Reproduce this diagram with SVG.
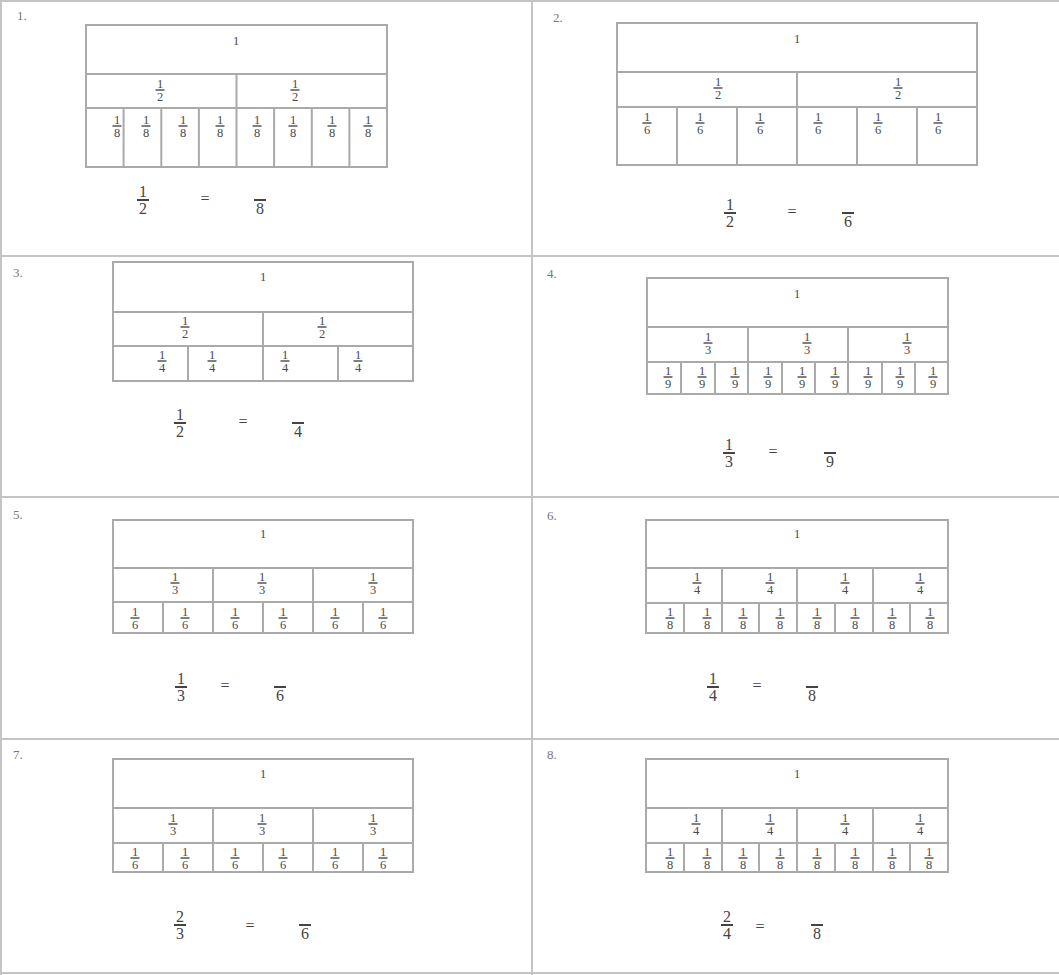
<svg xmlns="http://www.w3.org/2000/svg" width="1059" height="975" viewBox="0 0 1059 975">
<style>
.grid{stroke:#c4c4c4;stroke-width:2;fill:none}
.bar{stroke:#aaaaaa;stroke-width:2;fill:none}
.fl{stroke:#555;stroke-width:1.4;fill:none}
.fb{stroke:#444;stroke-width:1.8;fill:none}
text{font-family:"Liberation Serif","Times New Roman",serif;fill:#4a4a4a;text-anchor:middle}
.s{font-size:12.5px}
.b{font-size:16px;fill:#444}
.n{font-size:13px;text-anchor:start;fill:#777}
</style>
<rect width="1059" height="975" fill="#ffffff"/>
<g id="grid" class="grid">
<path d="M0 1H1059M1 0V975M532 0V975M0 256H1059M0 497H1059M0 739H1059M0 973H1059"/>
</g>

<g id="panel-1">
<text class="n" x="17" y="20">1.</text>
<rect class="bar" x="86" y="25" width="301" height="142"/>
<path class="bar" d="M86 74H387M86 108H387M236.5 74V167M123.6 108V167M161.3 108V167M198.9 108V167M274.1 108V167M311.8 108V167M349.4 108V167"/>
<text class="s" x="236" y="45">1</text>
<path class="fl" d="M155.5 90h9M290.5 90h9M112.5 126h9M141.5 126h9M178.5 126h9M215.5 126h9M252.5 126h9M288.5 126h9M327.5 126h9M363.5 126h9"/>
<text class="s" x="160" y="87.5">1</text><text class="s" x="160" y="100.5">2</text>
<text class="s" x="295" y="87.5">1</text><text class="s" x="295" y="100.5">2</text>
<text class="s" x="117" y="123.5">1</text><text class="s" x="117" y="136.5">8</text>
<text class="s" x="146" y="123.5">1</text><text class="s" x="146" y="136.5">8</text>
<text class="s" x="183" y="123.5">1</text><text class="s" x="183" y="136.5">8</text>
<text class="s" x="220" y="123.5">1</text><text class="s" x="220" y="136.5">8</text>
<text class="s" x="257" y="123.5">1</text><text class="s" x="257" y="136.5">8</text>
<text class="s" x="293" y="123.5">1</text><text class="s" x="293" y="136.5">8</text>
<text class="s" x="332" y="123.5">1</text><text class="s" x="332" y="136.5">8</text>
<text class="s" x="368" y="123.5">1</text><text class="s" x="368" y="136.5">8</text>
<path class="fb" d="M137 200h12M254 200h12"/>
<text class="b" x="143" y="197">1</text><text class="b" x="143" y="214">2</text>
<text class="b" x="205" y="204">=</text>
<text class="b" x="260" y="214">8</text>
</g>

<g id="panel-2">
<text class="n" x="553" y="22">2.</text>
<rect class="bar" x="617" y="23" width="360" height="142"/>
<path class="bar" d="M617 72H977M617 107H977M797 72V165M677 107V165M737 107V165M857 107V165M917 107V165"/>
<text class="s" x="797" y="43">1</text>
<path class="fl" d="M713.5 88h9M893.5 88h9M642.5 123h9M695.5 123h9M755.5 123h9M813.5 123h9M873.5 123h9M933.5 123h9"/>
<text class="s" x="718" y="85.5">1</text><text class="s" x="718" y="98.5">2</text>
<text class="s" x="898" y="85.5">1</text><text class="s" x="898" y="98.5">2</text>
<text class="s" x="647" y="120.5">1</text><text class="s" x="647" y="133.5">6</text>
<text class="s" x="700" y="120.5">1</text><text class="s" x="700" y="133.5">6</text>
<text class="s" x="760" y="120.5">1</text><text class="s" x="760" y="133.5">6</text>
<text class="s" x="818" y="120.5">1</text><text class="s" x="818" y="133.5">6</text>
<text class="s" x="878" y="120.5">1</text><text class="s" x="878" y="133.5">6</text>
<text class="s" x="938" y="120.5">1</text><text class="s" x="938" y="133.5">6</text>
<path class="fb" d="M724 213h12M842 213h12"/>
<text class="b" x="730" y="210">1</text><text class="b" x="730" y="227">2</text>
<text class="b" x="792" y="217">=</text>
<text class="b" x="848" y="227">6</text>
</g>

<g id="panel-3">
<text class="n" x="13" y="277">3.</text>
<rect class="bar" x="113" y="262" width="300" height="119"/>
<path class="bar" d="M113 312H413M113 346H413M263 312V381M188 346V381M338 346V381"/>
<text class="s" x="263" y="281">1</text>
<path class="fl" d="M180.5 327h9M317.5 327h9M157.5 361h9M207.5 361h9M280.5 361h9M353.5 361h9"/>
<text class="s" x="185" y="324.5">1</text><text class="s" x="185" y="337.5">2</text>
<text class="s" x="322" y="324.5">1</text><text class="s" x="322" y="337.5">2</text>
<text class="s" x="162" y="358.5">1</text><text class="s" x="162" y="371.5">4</text>
<text class="s" x="212" y="358.5">1</text><text class="s" x="212" y="371.5">4</text>
<text class="s" x="285" y="358.5">1</text><text class="s" x="285" y="371.5">4</text>
<text class="s" x="358" y="358.5">1</text><text class="s" x="358" y="371.5">4</text>
<path class="fb" d="M174 423h12M292 423h12"/>
<text class="b" x="180" y="420">1</text><text class="b" x="180" y="437">2</text>
<text class="b" x="243" y="427">=</text>
<text class="b" x="298" y="437">4</text>
</g>

<g id="panel-4">
<text class="n" x="547" y="278">4.</text>
<rect class="bar" x="647" y="278" width="301" height="116"/>
<path class="bar" d="M647 327H948M647 362H948M748 327V394M848 327V394M681 362V394M715 362V394M782 362V394M815 362V394M882 362V394M915 362V394"/>
<text class="s" x="797" y="298">1</text>
<path class="fl" d="M703.5 343h9M802.5 343h9M902.5 343h9M663.5 377h9M697.5 377h9M730.5 377h9M763.5 377h9M797.5 377h9M830.5 377h9M863.5 377h9M895.5 377h9M928.5 377h9"/>
<text class="s" x="708" y="340.5">1</text><text class="s" x="708" y="353.5">3</text>
<text class="s" x="807" y="340.5">1</text><text class="s" x="807" y="353.5">3</text>
<text class="s" x="907" y="340.5">1</text><text class="s" x="907" y="353.5">3</text>
<text class="s" x="668" y="374.5">1</text><text class="s" x="668" y="387.5">9</text>
<text class="s" x="702" y="374.5">1</text><text class="s" x="702" y="387.5">9</text>
<text class="s" x="735" y="374.5">1</text><text class="s" x="735" y="387.5">9</text>
<text class="s" x="768" y="374.5">1</text><text class="s" x="768" y="387.5">9</text>
<text class="s" x="802" y="374.5">1</text><text class="s" x="802" y="387.5">9</text>
<text class="s" x="835" y="374.5">1</text><text class="s" x="835" y="387.5">9</text>
<text class="s" x="868" y="374.5">1</text><text class="s" x="868" y="387.5">9</text>
<text class="s" x="900" y="374.5">1</text><text class="s" x="900" y="387.5">9</text>
<text class="s" x="933" y="374.5">1</text><text class="s" x="933" y="387.5">9</text>
<path class="fb" d="M723 453h12M824 453h12"/>
<text class="b" x="729" y="450">1</text><text class="b" x="729" y="467">3</text>
<text class="b" x="773" y="457">=</text>
<text class="b" x="830" y="467">9</text>
</g>

<g id="panel-5">
<text class="n" x="13" y="519">5.</text>
<rect class="bar" x="113" y="520" width="300" height="113"/>
<path class="bar" d="M113 568H413M113 602H413M213 568V633M313 568V633M163 602V633M263 602V633M363 602V633"/>
<text class="s" x="263" y="538">1</text>
<path class="fl" d="M170.5 583h9M257.5 583h9M368.5 583h9M130.5 618h9M180.5 618h9M230.5 618h9M278.5 618h9M330.5 618h9M378.5 618h9"/>
<text class="s" x="175" y="580.5">1</text><text class="s" x="175" y="593.5">3</text>
<text class="s" x="262" y="580.5">1</text><text class="s" x="262" y="593.5">3</text>
<text class="s" x="373" y="580.5">1</text><text class="s" x="373" y="593.5">3</text>
<text class="s" x="135" y="615.5">1</text><text class="s" x="135" y="628.5">6</text>
<text class="s" x="185" y="615.5">1</text><text class="s" x="185" y="628.5">6</text>
<text class="s" x="235" y="615.5">1</text><text class="s" x="235" y="628.5">6</text>
<text class="s" x="283" y="615.5">1</text><text class="s" x="283" y="628.5">6</text>
<text class="s" x="335" y="615.5">1</text><text class="s" x="335" y="628.5">6</text>
<text class="s" x="383" y="615.5">1</text><text class="s" x="383" y="628.5">6</text>
<path class="fb" d="M175 687h12M274 687h12"/>
<text class="b" x="181" y="684">1</text><text class="b" x="181" y="701">3</text>
<text class="b" x="225" y="691">=</text>
<text class="b" x="280" y="701">6</text>
</g>

<g id="panel-6">
<text class="n" x="547" y="520">6.</text>
<rect class="bar" x="646" y="520" width="302" height="113"/>
<path class="bar" d="M646 568H948M646 603H948M722 568V633M797 568V633M873 568V633M684 603V633M759 603V633M835 603V633M910 603V633"/>
<text class="s" x="797" y="538">1</text>
<path class="fl" d="M692.5 583h9M765.5 583h9M840.5 583h9M915.5 583h9M665.5 618h9M702.5 618h9M738.5 618h9M775.5 618h9M812.5 618h9M850.5 618h9M887.5 618h9M925.5 618h9"/>
<text class="s" x="697" y="580.5">1</text><text class="s" x="697" y="593.5">4</text>
<text class="s" x="770" y="580.5">1</text><text class="s" x="770" y="593.5">4</text>
<text class="s" x="845" y="580.5">1</text><text class="s" x="845" y="593.5">4</text>
<text class="s" x="920" y="580.5">1</text><text class="s" x="920" y="593.5">4</text>
<text class="s" x="670" y="615.5">1</text><text class="s" x="670" y="628.5">8</text>
<text class="s" x="707" y="615.5">1</text><text class="s" x="707" y="628.5">8</text>
<text class="s" x="743" y="615.5">1</text><text class="s" x="743" y="628.5">8</text>
<text class="s" x="780" y="615.5">1</text><text class="s" x="780" y="628.5">8</text>
<text class="s" x="817" y="615.5">1</text><text class="s" x="817" y="628.5">8</text>
<text class="s" x="855" y="615.5">1</text><text class="s" x="855" y="628.5">8</text>
<text class="s" x="892" y="615.5">1</text><text class="s" x="892" y="628.5">8</text>
<text class="s" x="930" y="615.5">1</text><text class="s" x="930" y="628.5">8</text>
<path class="fb" d="M707 687h12M806 687h12"/>
<text class="b" x="713" y="684">1</text><text class="b" x="713" y="701">4</text>
<text class="b" x="757" y="691">=</text>
<text class="b" x="812" y="701">8</text>
</g>

<g id="panel-7">
<text class="n" x="13" y="759">7.</text>
<rect class="bar" x="113" y="759" width="300" height="113"/>
<path class="bar" d="M113 808H413M113 843H413M213 808V872M313 808V872M163 843V872M263 843V872M363 843V872"/>
<text class="s" x="263" y="778">1</text>
<path class="fl" d="M168.5 824h9M257.5 824h9M368.5 824h9M130.5 858h9M180.5 858h9M230.5 858h9M278.5 858h9M330.5 858h9M378.5 858h9"/>
<text class="s" x="173" y="821.5">1</text><text class="s" x="173" y="834.5">3</text>
<text class="s" x="262" y="821.5">1</text><text class="s" x="262" y="834.5">3</text>
<text class="s" x="373" y="821.5">1</text><text class="s" x="373" y="834.5">3</text>
<text class="s" x="135" y="855.5">1</text><text class="s" x="135" y="868.5">6</text>
<text class="s" x="185" y="855.5">1</text><text class="s" x="185" y="868.5">6</text>
<text class="s" x="235" y="855.5">1</text><text class="s" x="235" y="868.5">6</text>
<text class="s" x="283" y="855.5">1</text><text class="s" x="283" y="868.5">6</text>
<text class="s" x="335" y="855.5">1</text><text class="s" x="335" y="868.5">6</text>
<text class="s" x="383" y="855.5">1</text><text class="s" x="383" y="868.5">6</text>
<path class="fb" d="M174 925h12M299 925h12"/>
<text class="b" x="180" y="922">2</text><text class="b" x="180" y="939">3</text>
<text class="b" x="250" y="931">=</text>
<text class="b" x="305" y="939">6</text>
</g>

<g id="panel-8">
<text class="n" x="547" y="759">8.</text>
<rect class="bar" x="646" y="759" width="302" height="113"/>
<path class="bar" d="M646 808H948M646 843H948M722 808V872M797 808V872M873 808V872M684 843V872M759 843V872M835 843V872M910 843V872"/>
<text class="s" x="797" y="778">1</text>
<path class="fl" d="M691.5 824h9M765.5 824h9M840.5 824h9M915.5 824h9M665.5 858h9M702.5 858h9M738.5 858h9M775.5 858h9M812.5 858h9M850.5 858h9M887.5 858h9M924.5 858h9"/>
<text class="s" x="696" y="821.5">1</text><text class="s" x="696" y="834.5">4</text>
<text class="s" x="770" y="821.5">1</text><text class="s" x="770" y="834.5">4</text>
<text class="s" x="845" y="821.5">1</text><text class="s" x="845" y="834.5">4</text>
<text class="s" x="920" y="821.5">1</text><text class="s" x="920" y="834.5">4</text>
<text class="s" x="670" y="855.5">1</text><text class="s" x="670" y="868.5">8</text>
<text class="s" x="707" y="855.5">1</text><text class="s" x="707" y="868.5">8</text>
<text class="s" x="743" y="855.5">1</text><text class="s" x="743" y="868.5">8</text>
<text class="s" x="780" y="855.5">1</text><text class="s" x="780" y="868.5">8</text>
<text class="s" x="817" y="855.5">1</text><text class="s" x="817" y="868.5">8</text>
<text class="s" x="855" y="855.5">1</text><text class="s" x="855" y="868.5">8</text>
<text class="s" x="892" y="855.5">1</text><text class="s" x="892" y="868.5">8</text>
<text class="s" x="929" y="855.5">1</text><text class="s" x="929" y="868.5">8</text>
<path class="fb" d="M721 925h12M811 925h12"/>
<text class="b" x="727" y="922">2</text><text class="b" x="727" y="939">4</text>
<text class="b" x="760" y="932">=</text>
<text class="b" x="817" y="939">8</text>
</g>
</svg>
